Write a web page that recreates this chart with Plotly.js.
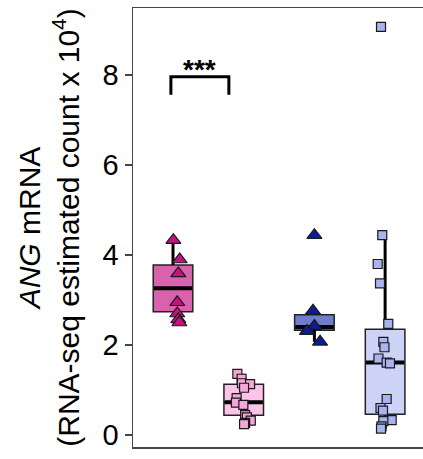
<!DOCTYPE html>
<html>
<head>
<meta charset="utf-8">
<script src="https://cdn.plot.ly/plotly-3.0.1.min.js"></script>
<style>html,body{margin:0;padding:0;background:#fff;}#chart{width:423px;height:459px;}</style>
</head>
<body>
<div id="chart"></div>
<script>
// ---- data ----
const groups = ['Group 1', 'Group 2', 'Group 3', 'Group 4'];
const positions = [0, 1, 2, 3];

const values1 = [4.33, 3.90, 3.59, 2.95, 2.70, 2.57, 2.50];
const values2 = [1.36, 1.25, 1.15, 1.13, 1.05, 0.82, 0.72, 0.67, 0.44, 0.39, 0.32, 0.27, 0.24];
const values3 = [4.44, 2.76, 2.42, 2.31, 2.07];
const values4 = [9.07, 4.44, 3.80, 3.37, 2.47, 2.07, 1.95, 1.70, 1.61, 1.59, 0.80, 0.60, 0.54, 0.33, 0.31, 0.19, 0.14];

// horizontal jitter of the points (in category widths)
const jitter1 = [0.005, 0.095, 0.075, 0.06, 0.06, 0.075, 0.09];
const jitter2 = [-0.09, -0.03, -0.025, 0.09, 0.005, -0.1, -0.11, -0.005, 0.02, 0.045, 0.1, 0.02, 0.005];
const jitter3 = [0, -0.02, 0, -0.105, 0.08];
const jitter4 = [-0.058, -0.04, -0.105, -0.072, 0.045, -0.025, -0.009, -0.094, 0.022, 0.069, 0.022, -0.065, -0.03, 0.093, -0.025, -0.051, -0.058];

// box statistics
const q1Values = [2.74, 0.44, 2.33, 0.46];
const medianValues = [3.26, 0.73, 2.40, 1.61];
const q3Values = [3.78, 1.13, 2.67, 2.35];
const lowerFences = [2.74, 0.24, 2.07, 0.14];
const upperFences = [4.33, 1.36, 2.67, 4.44];

const yTickValues = [0, 2, 4, 6, 8];
const yTickLabels = ['0', '2', '4', '6', '8'];

const sigLabel = '***';
const sigFrom = -0.03, sigTo = 0.79, sigLow = 7.56, sigHigh = 7.96;

// ---- styles ----
const boxFills = ['#d862ae', '#fcc4e6', '#6e7ecb', '#ccd3f7'];
const pointColors = ['#c4137e', '#f7a6d9', '#0c1b97', '#a9b4ef'];
const symbols = ['triangle-up', 'square', 'triangle-up', 'square'];
const sizes = [13, 9, 13, 9];
const allValues = [values1, values2, values3, values4];
const allJitter = [jitter1, jitter2, jitter3, jitter4];
const halfW = 0.28;
const FONT = 'Liberation Sans, Arial, sans-serif';

const traces = [];
// whiskers (thick)
positions.forEach((p, i) => {
  traces.push({
    type: 'scatter', mode: 'lines', x: [p, p, null, p, p],
    y: [lowerFences[i], q1Values[i], null, q3Values[i], upperFences[i]],
    line: {color: '#000', width: 3}, hoverinfo: 'skip', showlegend: false
  });
});
// boxes
positions.forEach((p, i) => {
  traces.push({
    type: 'box', name: groups[i], x: [p],
    q1: [q1Values[i]], median: [medianValues[i]], q3: [q3Values[i]],
    lowerfence: [q1Values[i]], upperfence: [q3Values[i]],
    width: halfW * 2, whiskerwidth: 0, boxpoints: false,
    fillcolor: boxFills[i], line: {color: '#222', width: 1.5},
    showlegend: false
  });
});
// medians (thick)
positions.forEach((p, i) => {
  traces.push({
    type: 'scatter', mode: 'lines', x: [p - halfW + 0.01, p + halfW - 0.01],
    y: [medianValues[i], medianValues[i]],
    line: {color: '#000', width: 4}, hoverinfo: 'skip', showlegend: false
  });
});
// points
positions.forEach((p, i) => {
  traces.push({
    type: 'scatter', mode: 'markers', name: groups[i],
    x: allValues[i].map((v, k) => p + allJitter[i][k]),
    y: allValues[i],
    marker: {symbol: symbols[i], size: sizes[i], color: pointColors[i], line: {color: '#1a1a1a', width: 1.2}},
    showlegend: false
  });
});
// significance bracket
traces.push({
  type: 'scatter', mode: 'lines',
  x: [sigFrom, sigFrom, sigTo, sigTo], y: [sigLow, sigHigh, sigHigh, sigLow],
  line: {color: '#000', width: 3}, hoverinfo: 'skip', showlegend: false
});

const layout = {
  width: 423, height: 459,
  margin: {l: 133, r: 0, t: 8, b: 12},
  paper_bgcolor: '#fff', plot_bgcolor: '#fff',
  font: {family: FONT, color: '#000'},
  showlegend: false,
  xaxis: {
    range: [-0.566, 3.536], showticklabels: false, ticks: '', showgrid: false, zeroline: false,
    showline: true, mirror: true, linecolor: '#444', linewidth: 1.5
  },
  yaxis: {
    range: [-0.267, 9.49], tickvals: yTickValues, ticktext: yTickLabels,
    ticks: 'outside', ticklen: 7, tickwidth: 1.5, tickcolor: '#444',
    showgrid: false, zeroline: false, showline: true, linecolor: '#444', linewidth: 1.5,
    tickfont: {size: 29, family: FONT, color: '#000'},
    title: {text: '<i>ANG</i> mRNA<br>(RNA-seq estimated count x 10<sup>4</sup>)',
            font: {size: 30, family: FONT, color: '#000'}, standoff: 14}
  },
  annotations: [{
    x: (sigFrom + sigTo) / 2, y: 8.12, xref: 'x', yref: 'y', text: '<b>' + sigLabel + '</b>',
    showarrow: false, yanchor: 'middle', font: {size: 28, family: FONT, color: '#000'}
  }]
};

Plotly.newPlot('chart', traces, layout, {displayModeBar: false, staticPlot: true});
</script>
</body>
</html>
